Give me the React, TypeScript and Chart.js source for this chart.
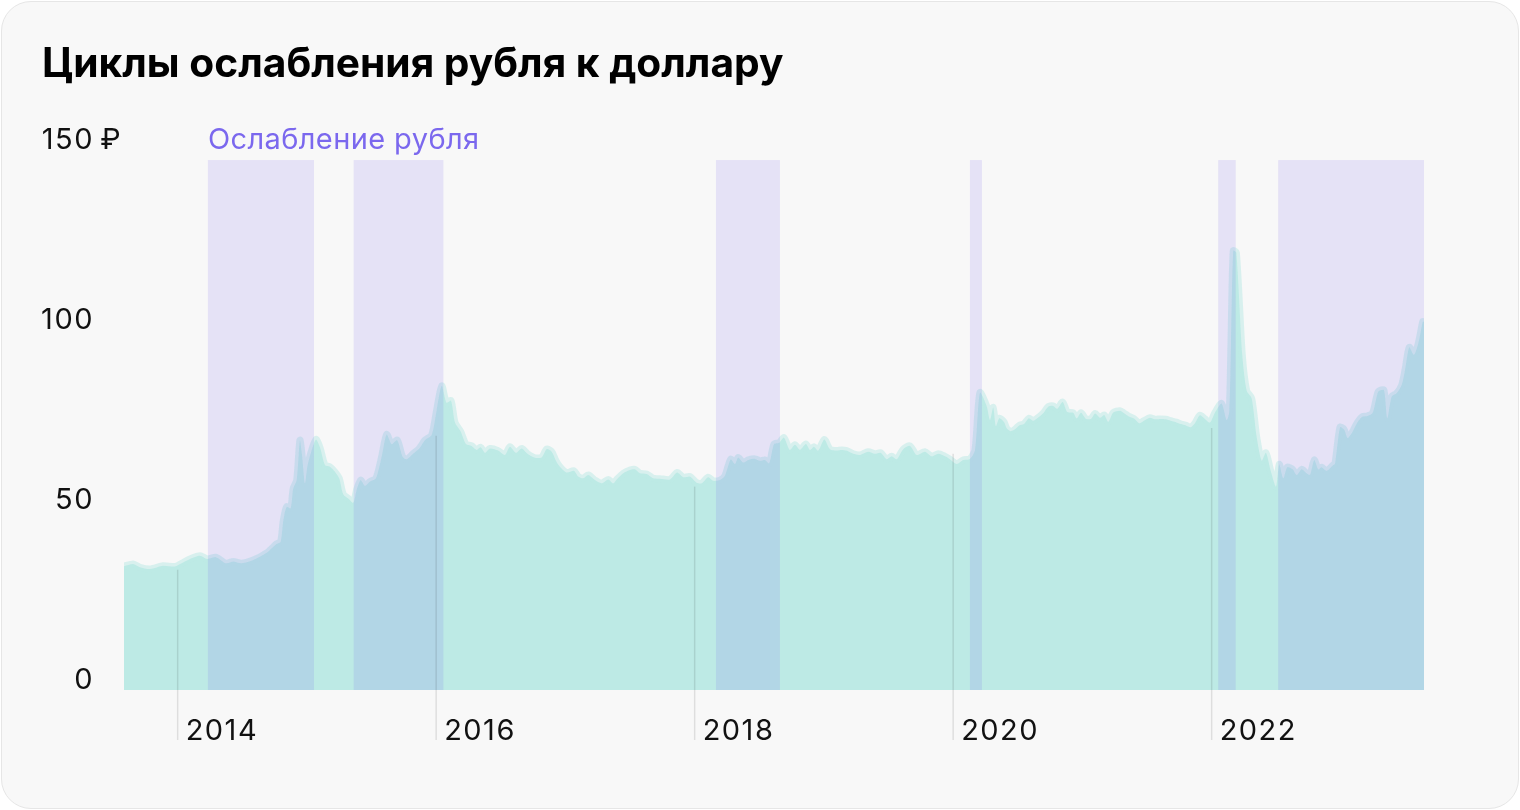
import React, { useEffect, useRef } from "react";
import { Chart, registerables } from "chart.js";

Chart.register(...registerables);

const TITLE = "Циклы ослабления рубля к доллару";
const BAND_LABEL = "Ослабление рубля";

// decimal years
const dates = [
  2013.585, 2013.656, 2013.708, 2013.786, 2013.889, 2013.979, 2014.031, 2014.095, 2014.173, 2014.229,
  2014.296, 2014.374, 2014.43, 2014.495, 2014.585, 2014.689, 2014.766, 2014.797, 2014.817, 2014.843,
  2014.874, 2014.894, 2014.921, 2014.946, 2014.964, 2014.985, 2015.003, 2015.029, 2015.07, 2015.101,
  2015.14, 2015.178, 2015.217, 2015.25, 2015.281, 2015.32, 2015.359, 2015.385, 2015.416, 2015.449,
  2015.488, 2015.534, 2015.578, 2015.617, 2015.656, 2015.699, 2015.741, 2015.772, 2015.823, 2015.869,
  2015.913, 2015.965, 2016.004, 2016.043, 2016.08, 2016.115, 2016.146, 2016.19, 2016.231, 2016.275,
  2016.313, 2016.344, 2016.378, 2016.416, 2016.48, 2016.532, 2016.571, 2016.617, 2016.662, 2016.705,
  2016.764, 2016.816, 2016.855, 2016.894, 2016.927, 2016.958, 2017.01, 2017.066, 2017.099, 2017.138,
  2017.177, 2017.229, 2017.28, 2017.332, 2017.37, 2017.397, 2017.448, 2017.499, 2017.538, 2017.577,
  2017.629, 2017.68, 2017.732, 2017.809, 2017.865, 2017.912, 2017.964, 2018.015, 2018.054, 2018.105,
  2018.144, 2018.196, 2018.234, 2018.279, 2018.312, 2018.337, 2018.376, 2018.415, 2018.467, 2018.505,
  2018.544, 2018.577, 2018.614, 2018.655, 2018.691, 2018.737, 2018.776, 2018.815, 2018.861, 2018.892,
  2018.923, 2018.956, 2019.003, 2019.047, 2019.099, 2019.137, 2019.176, 2019.227, 2019.279, 2019.343,
  2019.395, 2019.439, 2019.486, 2019.524, 2019.563, 2019.614, 2019.666, 2019.718, 2019.782, 2019.834,
  2019.885, 2019.937, 2019.975, 2020.027, 2020.078, 2020.13, 2020.169, 2020.207, 2020.259, 2020.285,
  2020.31, 2020.331, 2020.357, 2020.393, 2020.414, 2020.445, 2020.478, 2020.511, 2020.548, 2020.586,
  2020.62, 2020.666, 2020.697, 2020.736, 2020.774, 2020.805, 2020.847, 2020.883, 2020.929, 2020.956,
  2020.989, 2021.028, 2021.066, 2021.099, 2021.136, 2021.169, 2021.2, 2021.239, 2021.291, 2021.322,
  2021.36, 2021.399, 2021.44, 2021.476, 2021.523, 2021.561, 2021.605, 2021.646, 2021.683, 2021.724,
  2021.762, 2021.801, 2021.838, 2021.871, 2021.909, 2021.948, 2021.987, 2022.026, 2022.077, 2022.116,
  2022.136, 2022.149, 2022.167, 2022.191, 2022.237, 2022.271, 2022.31, 2022.348, 2022.387, 2022.42,
  2022.457, 2022.498, 2022.523, 2022.554, 2022.585, 2022.627, 2022.658, 2022.696, 2022.735, 2022.761,
  2022.794, 2022.825, 2022.851, 2022.89, 2022.941, 2022.954, 2022.993, 2023.024, 2023.052, 2023.083,
  2023.127, 2023.165, 2023.204, 2023.246, 2023.289, 2023.333, 2023.359, 2023.393, 2023.431, 2023.47,
  2023.496, 2023.529, 2023.565, 2023.599, 2023.633, 2023.643,
];

// USD/RUB, rubles
const rates = [
  34.4, 35.0, 34.1, 33.6, 34.5, 34.3, 35.2, 36.4, 37.3, 36.4,
  36.9, 35.2, 35.7, 35.2, 36.1, 38.1, 40.6, 41.2, 47.0, 50.9,
  50.5, 56.0, 58.3, 69.4, 64.8, 57.4, 62.0, 65.7, 69.6, 67.4,
  62.5, 62.0, 60.6, 58.8, 54.4, 53.2, 52.0, 55.6, 58.3, 56.7,
  57.9, 58.8, 64.8, 71.0, 68.3, 69.4, 64.8, 64.1, 65.7, 67.1,
  69.4, 70.8, 77.8, 84.5, 79.8, 80.4, 74.3, 71.8, 68.3, 67.8,
  66.7, 67.4, 65.9, 67.1, 66.5, 65.3, 67.6, 65.9, 67.1, 65.7,
  64.5, 64.6, 66.9, 66.2, 63.7, 62.0, 60.4, 60.9, 59.3, 58.8,
  59.7, 58.3, 57.4, 58.5, 57.4, 58.5, 60.2, 61.1, 61.3, 60.2,
  60.0, 58.8, 58.7, 58.5, 60.4, 59.1, 59.3, 57.6, 57.4, 59.1,
  58.1, 58.3, 59.5, 64.1, 62.8, 64.6, 63.2, 63.9, 64.2, 63.7,
  63.9, 63.0, 68.3, 68.7, 70.1, 66.7, 68.1, 66.7, 68.3, 66.7,
  67.6, 66.5, 69.6, 66.9, 66.5, 66.7, 66.5, 65.6, 65.3, 66.2,
  65.6, 65.9, 64.1, 64.9, 64.1, 66.9, 67.8, 65.3, 66.2, 64.9,
  65.6, 64.9, 64.1, 62.8, 63.9, 64.2, 66.7, 82.6, 78.9, 75.0,
  78.5, 73.3, 75.5, 74.5, 72.7, 71.9, 72.4, 73.5, 73.9, 75.5,
  74.8, 75.9, 76.9, 78.7, 78.9, 78.1, 80.0, 77.2, 77.0, 75.4,
  77.0, 75.3, 75.3, 76.8, 75.6, 76.4, 74.5, 77.1, 77.6, 76.9,
  76.0, 75.4, 74.1, 74.8, 75.6, 75.2, 75.3, 75.2, 74.8, 74.4,
  73.9, 73.5, 73.0, 74.1, 76.3, 75.3, 74.3, 77.1, 79.6, 75.0,
  77.3, 95.6, 122.0, 121.5, 93.1, 83.1, 81.0, 70.4, 63.7, 65.9,
  60.9, 56.5, 62.7, 58.8, 61.9, 61.3, 59.7, 61.3, 60.2, 59.8,
  63.9, 61.3, 61.9, 60.9, 62.5, 62.8, 73.0, 72.4, 70.0, 71.3,
  74.3, 75.9, 76.1, 77.0, 82.9, 83.3, 75.5, 81.5, 82.4, 84.7,
  88.9, 95.2, 93.1, 96.3, 102.3, 102.3,
];

// Ruble weakening periods (decimal years)
const bandStarts = [2014.234, 2015.362, 2018.165, 2020.13, 2022.051, 2022.515];
const bandEnds = [2015.055, 2016.056, 2018.66, 2020.223, 2022.186, 2023.643];
const bandTopValue = 147.2;

const yTicks = [0, 50, 100, 150];
const yTopSuffix = " ₽";
const xTickYears = [2014, 2016, 2018, 2020, 2022];
const yearLineValues = [33.4, 70.6, 56.5, 65.6, 72.8];

const X_MIN = 2013.585;
const X_MAX = 2023.643;

const FONT = "Inter, 'Noto Sans', sans-serif";

const overlayPlugin = {
  id: "overlay",
  afterDatasetsDraw(chart: any) {
    const { ctx, scales } = chart;
    const x = scales.x;
    const y = scales.y;
    const y0 = y.getPixelForValue(0);
    ctx.save();
    // bands
    ctx.fillStyle = "rgba(123,104,238,0.15)";
    const yt = y.getPixelForValue(bandTopValue);
    bandStarts.forEach((s, i) => {
      const x0 = x.getPixelForValue(s);
      const x1 = x.getPixelForValue(bandEnds[i]);
      ctx.fillRect(x0, yt, x1 - x0, y0 - yt);
    });
    // year lines + labels
    ctx.strokeStyle = "rgba(0,0,0,0.1)";
    ctx.lineWidth = 1.5;
    ctx.font = `400 29px ${FONT}`;
    (ctx as any).letterSpacing = "1.5px";
    ctx.fillStyle = "#111";
    ctx.textAlign = "left";
    ctx.textBaseline = "alphabetic";
    xTickYears.forEach((yr, i) => {
      const px = x.getPixelForValue(yr);
      ctx.beginPath();
      ctx.moveTo(px, y.getPixelForValue(yearLineValues[i]));
      ctx.lineTo(px, y0 + 50);
      ctx.stroke();
      ctx.fillText(String(yr), px + 8, y0 + 50);
    });
    // y labels
    const labelX = chart.chartArea.left - 30;
    yTicks.forEach((v, i) => {
      const py = y.getPixelForValue(v) - 1;
      ctx.textAlign = "right";
      ctx.fillText(String(v), labelX, py);
      if (i === yTicks.length - 1) {
        ctx.textAlign = "left";
        (ctx as any).letterSpacing = "0px";
        ctx.fillText(yTopSuffix, labelX - 2, py);
        (ctx as any).letterSpacing = "1.5px";
      }
    });
    // band label
    (ctx as any).letterSpacing = "0.4px";
    ctx.textAlign = "left";
    ctx.fillStyle = "#7B68EE";
    ctx.fillText(BAND_LABEL, x.getPixelForValue(bandStarts[0]), y.getPixelForValue(150) - 1);
    ctx.restore();
  },
};

export default function App() {
  const canvasRef = useRef<HTMLCanvasElement | null>(null);

  useEffect(() => {
    const canvas = canvasRef.current;
    if (!canvas) return;
    const chart = new Chart(canvas, {
      type: "line",
      data: {
        datasets: [
          {
            data: dates.map((d, i) => ({ x: d, y: rates[i] })),
            fill: "origin",
            backgroundColor: "#bdeae5",
            borderColor: "rgba(189,234,229,0.55)",
            borderWidth: 7,
            pointRadius: 0,
            tension: 0.25,
          },
        ],
      },
      options: {
        animation: false,
        responsive: false,
        maintainAspectRatio: false,
        devicePixelRatio: 1,
        layout: { padding: { left: 124, right: 96, top: 150, bottom: 120 } },
        scales: {
          x: { type: "linear", min: X_MIN, max: X_MAX, display: false },
          y: { type: "linear", min: 0, max: 150, display: false },
        },
        plugins: { legend: { display: false }, tooltip: { enabled: false } },
      },
      plugins: [overlayPlugin],
    } as any);
    return () => chart.destroy();
  }, []);

  return (
    <div style={{ position: "absolute", left: 0, top: 0, width: 1520, height: 810, background: "#fff" }}>
      <div
        style={{
          position: "absolute",
          left: 1,
          top: 1,
          width: 1516,
          height: 806,
          borderRadius: 30,
          border: "1.5px solid #e6e6e6",
          background: "#f8f8f8",
        }}
      />
      <canvas
        ref={canvasRef}
        width={1520}
        height={810}
        style={{ position: "absolute", left: 0, top: 0, width: 1520, height: 810 }}
      />
      <div
        style={{
          position: "absolute",
          left: 42,
          top: 39,
          fontFamily: FONT,
          fontWeight: 700,
          fontSize: 40.7,
          lineHeight: "48px",
          color: "#000",
          whiteSpace: "nowrap",
        }}
      >
        {TITLE}
      </div>
    </div>
  );
}
